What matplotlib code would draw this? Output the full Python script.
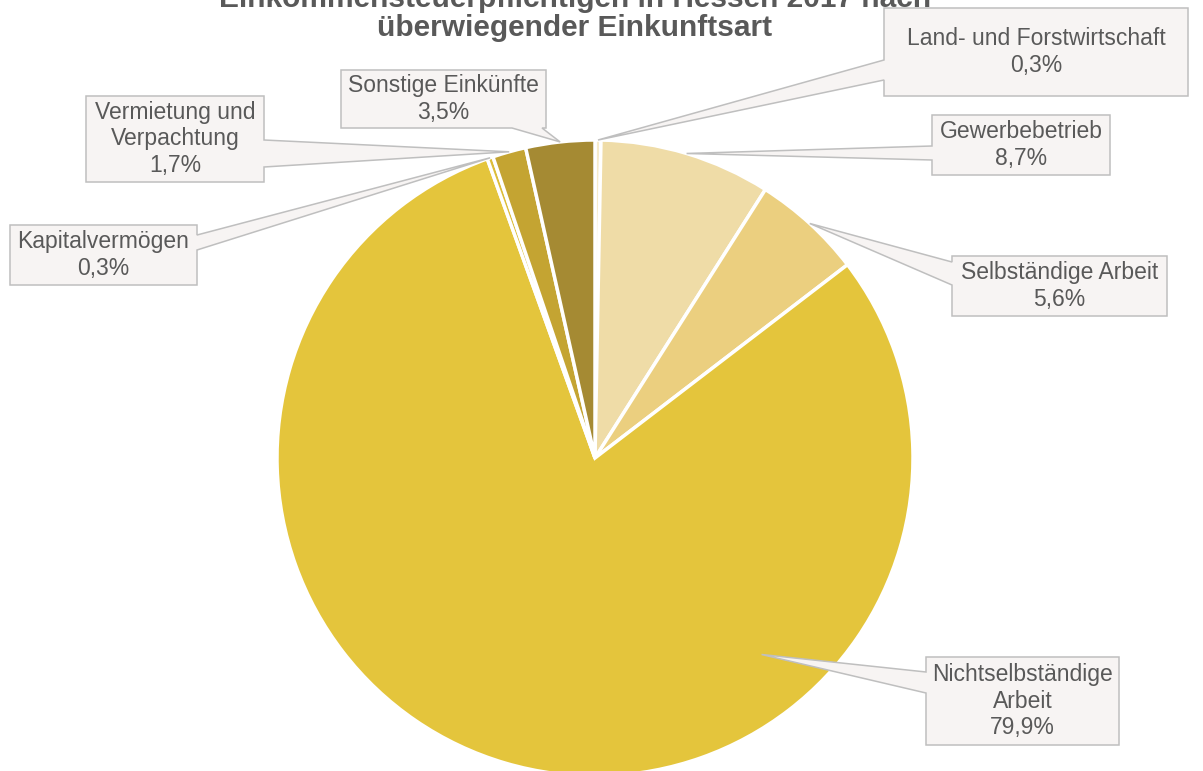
import numpy as np
import matplotlib
matplotlib.use('Agg')
from matplotlib import pyplot as plt
from matplotlib.patches import Polygon

plt.rcParams['font.family'] = ['Liberation Sans', 'DejaVu Sans']

W, H = 1203, 771

title_lines = ['Einkommensteuerpflichtigen in Hessen 2017 nach', 'überwiegender Einkunftsart']

categories = ['Land- und Forstwirtschaft', 'Gewerbebetrieb', 'Selbständige Arbeit',
              'Nichtselbständige\nArbeit', 'Kapitalvermögen', 'Vermietung und\nVerpachtung',
              'Sonstige Einkünfte']
shares = [0.3, 8.7, 5.6, 79.9, 0.3, 1.7, 3.5]
colors = ['#F6EBCB', '#EFDCA7', '#EBCF7F', '#E4C53C', '#DCBD3A', '#C4A432', '#A58A33']

# callout layout in image pixels: box (x0, y0, x1, y1), side of pointer, base span on that side,
# where the tip sits inside the wedge (fraction of the angle range, fraction of radius)
callouts = [
    ((884, 8, 1188, 96), 'left', (60, 80), 0.5, 1.0),
    ((932, 115, 1110, 175), 'left', (146, 160), 0.5, 1.0),
    ((952, 256, 1167, 316), 'left', (262, 285), 0.5, 1.0),
    ((926, 657, 1119, 745), 'left', (672, 693), 0.303, 0.81),
    ((10, 225, 197, 285), 'right', (235, 250), 0.5, 1.0),
    ((86, 96, 264, 182), 'right', (140, 167), 0.5, 1.0),
    ((341, 70, 546, 128), 'bottom', (512, 542), 0.5, 1.0),
]

center_img = (595, 458)
radius = 318


def fmt_pct(v):
    return ('%.1f%%' % v).replace('.', ',')


def callout_outline(box, side, span, tip):
    x0, y0, x1, y1 = box
    a, b = span
    # clockwise in image coordinates, starting top-left
    pts = [(x0, y0)]
    if side == 'top':
        pts += [(a, y0), tip, (b, y0)]
    pts.append((x1, y0))
    if side == 'right':
        pts += [(x1, a), tip, (x1, b)]
    pts.append((x1, y1))
    if side == 'bottom':
        pts += [(b, y1), tip, (a, y1)]
    pts.append((x0, y1))
    if side == 'left':
        pts += [(x0, b), tip, (x0, a)]
    return [(px, H - py) for px, py in pts]


fig = plt.figure(figsize=(W / 100, H / 100), dpi=100)
ax = fig.add_axes([0, 0, 1, 1])

cx, cy = center_img[0], H - center_img[1]
wedges, _ = ax.pie(shares, colors=colors, startangle=90, counterclock=False,
                   center=(cx, cy), radius=radius, frame=True,
                   wedgeprops=dict(edgecolor='white', linewidth=2.5))
ax.set_xlim(0, W)
ax.set_ylim(0, H)
ax.set_aspect('equal')
ax.axis('off')

for wedge, cat, val, (box, side, span, frac, rfrac) in zip(wedges, categories, shares, callouts):
    ang = np.deg2rad(wedge.theta2 - frac * (wedge.theta2 - wedge.theta1))
    tip_x = cx + rfrac * radius * np.cos(ang)
    tip_y = cy + rfrac * radius * np.sin(ang)
    tip = (tip_x, H - tip_y)
    poly = Polygon(callout_outline(box, side, span, tip), closed=True,
                   facecolor='#F7F4F3', edgecolor='#BFBFBF', linewidth=1.1, zorder=5)
    ax.add_patch(poly)
    x0, y0, x1, y1 = box
    ax.text((x0 + x1) / 2, H - (y0 + y1) / 2, cat + '\n' + fmt_pct(val),
            ha='center', va='center', fontsize=16.5, color='#595959',
            linespacing=1.22, zorder=6)

ax.text(575, H - 42, '\n'.join(title_lines), ha='center', va='bottom',
        fontsize=21.5, fontweight='bold', color='#595959', linespacing=1.05,
        zorder=7)

fig.savefig('out.png', dpi=100)
